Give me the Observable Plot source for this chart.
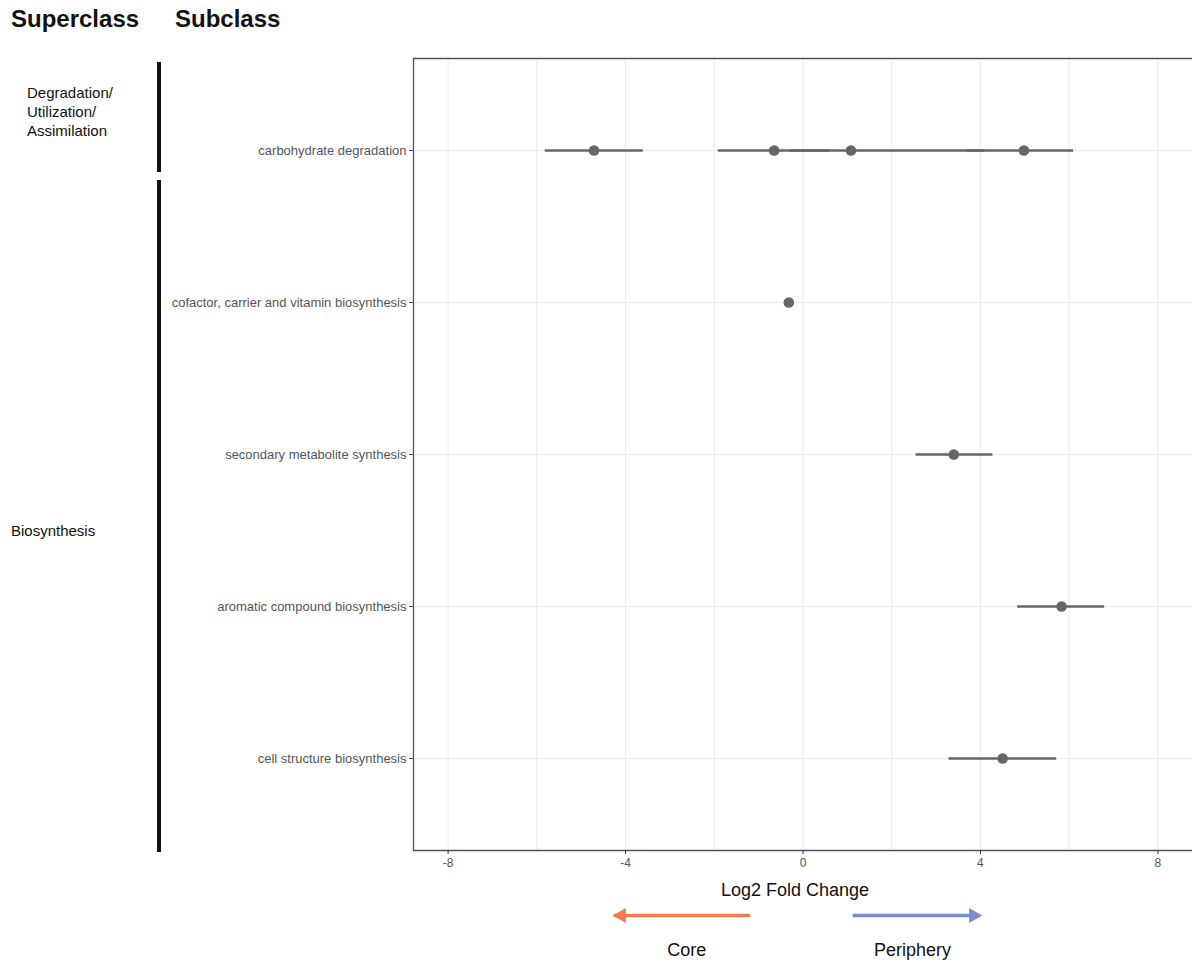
<!DOCTYPE html>
<html>
<head>
<meta charset="utf-8">
<script src="https://cdn.jsdelivr.net/npm/d3@7"></script>
<script src="https://cdn.jsdelivr.net/npm/@observablehq/plot@0.6"></script>
<style>
  body { margin: 0; background: #fff; font-family: "Liberation Sans", Arial, sans-serif; }
  #page { position: relative; width: 1192px; height: 962px; overflow: hidden; }
  .hdr { position: absolute; top: 5px; font-weight: bold; font-size: 24px; color: #111; }
  .sup { position: absolute; font-size: 15px; color: #111; line-height: 19px; }
  .bar { position: absolute; left: 157px; width: 4px; background: #111; }
  #main { position: absolute; left: 0; top: 0; }
  #xtitle { position: absolute; top: 880px; left: 0; width: 1590px; text-align: center; font-size: 18px; color: #111; }
  #arrows { position: absolute; left: 0; top: 900px; }
</style>
</head>
<body>
<div id="page">
  <div class="hdr" style="left:11px">Superclass</div>
  <div class="hdr" style="left:175px">Subclass</div>
  <div class="bar" style="top:62px;height:110px"></div>
  <div class="bar" style="top:180px;height:672px"></div>
  <div class="sup" style="left:27px;top:83px">Degradation/<br>Utilization/<br>Assimilation</div>
  <div class="sup" style="left:11px;top:521px">Biosynthesis</div>
  <div id="main"></div>
  <div id="xtitle">Log2 Fold Change</div>
  <div id="arrows"></div>
</div>
<script>
// ---- data ----
const subclasses = [
  "carbohydrate degradation",
  "cofactor, carrier and vitamin biosynthesis",
  "secondary metabolite synthesis",
  "aromatic compound biosynthesis",
  "cell structure biosynthesis"
];
const pointSubclass = [
  "carbohydrate degradation", "carbohydrate degradation",
  "carbohydrate degradation", "carbohydrate degradation",
  "cofactor, carrier and vitamin biosynthesis",
  "secondary metabolite synthesis",
  "aromatic compound biosynthesis",
  "cell structure biosynthesis"
];
const log2fc = [-4.71, -0.65, 1.08, 4.98, -0.32, 3.40, 5.83, 4.50];
const ciLow  = [-5.81, -1.91, -0.30, 3.70, -0.32, 2.55, 4.84, 3.29];
const ciHigh = [-3.60,  0.60,  4.10, 6.10, -0.32, 4.28, 6.80, 5.72];
const xTicks = [-8, -4, 0, 4, 8];
const xGrid = [-8, -6, -4, -2, 0, 2, 4, 6, 8];
const xDomain = [-8.78, 8.78];

const directionLabels = ["Core", "Periphery"];
const labelX = [-2.62, 2.47];
const arrowFrom = [-1.18, 1.13];
const arrowTo = [-4.25, 4.0];
const arrowColors = ["#f47a52", "#7b8dcb"];

const rows = log2fc.map((v, i) => ({sub: pointSubclass[i], fc: v, lo: ciLow[i], hi: ciHigh[i]}));

const main = Plot.plot({
  width: 1192, height: 872,
  marginLeft: 413, marginRight: 0, marginTop: 58, marginBottom: 22,
  style: {fontFamily: '"Liberation Sans", Arial, sans-serif', background: "transparent"},
  x: {domain: xDomain},
  y: {type: "point", domain: subclasses, padding: 0.6},
  marks: [
    Plot.ruleX(xGrid, {stroke: "#ebebeb", strokeWidth: 1}),
    Plot.ruleY(subclasses, {y: d => d, stroke: "#ebebeb", strokeWidth: 1}),
    Plot.frame({anchor: "left", stroke: "#555", strokeWidth: 1.3}),
    Plot.frame({anchor: "top", stroke: "#555", strokeWidth: 1.3}),
    Plot.frame({anchor: "bottom", stroke: "#555", strokeWidth: 1.3}),
    Plot.axisY({tickSize: 4, tickPadding: 3, fontSize: 13, fill: "#555", stroke: "#333", label: null}),
    Plot.axisX({ticks: xTicks, tickSize: 4, tickPadding: 4, fontSize: 12, fill: "#555", stroke: "#333", label: null, tickFormat: d => String(d)}),
    Plot.ruleY(rows, {y: "sub", x1: "lo", x2: "hi", stroke: "#666", strokeWidth: 2.6}),
    Plot.dot(rows, {x: "fc", y: "sub", r: 5.3, fill: "#666", stroke: "none"})
  ]
});
document.getElementById("main").appendChild(main);

const arrowRows = directionLabels.map((lab, i) => ({lab, lx: labelX[i], from: arrowFrom[i], to: arrowTo[i], color: arrowColors[i], dir: Math.sign(arrowTo[i] - arrowFrom[i])}));

const arrows = Plot.plot({
  width: 1192, height: 62,
  marginLeft: 413, marginRight: 0, marginTop: 0, marginBottom: 0,
  style: {fontFamily: '"Liberation Sans", Arial, sans-serif', background: "transparent"},
  x: {domain: xDomain, axis: null},
  y: {type: "point", domain: ["arrow", "label"], range: [15, 50], padding: 0, axis: null},
  color: {type: "identity"},
  marks: [
    Plot.ruleY(arrowRows, {y: () => "arrow", x1: "from", x2: "to", stroke: "color", strokeWidth: 3.5}),
    Plot.dot(arrowRows, {x: "to", y: () => "arrow", symbol: "triangle", r: 5.6, fill: "color", stroke: "none",
      rotate: d => d.dir > 0 ? 90 : -90}),
    Plot.text(arrowRows, {x: "lx", y: () => "label", text: "lab", fontSize: 18, fill: "#111"})
  ]
});
document.getElementById("arrows").appendChild(arrows);

// shift triangle heads so the tip sits at the arrow end
arrows.querySelectorAll("g[aria-label='dot'] path").forEach((p, i) => {
  const r = arrowRows[i];
  const t = p.getAttribute("transform") || "";
  p.setAttribute("transform", t.replace(/translate\(([-\d.]+),([-\d.]+)\)/, (m, a, b) => `translate(${+a - r.dir * 7},${b})`));
});
</script>
</body>
</html>
